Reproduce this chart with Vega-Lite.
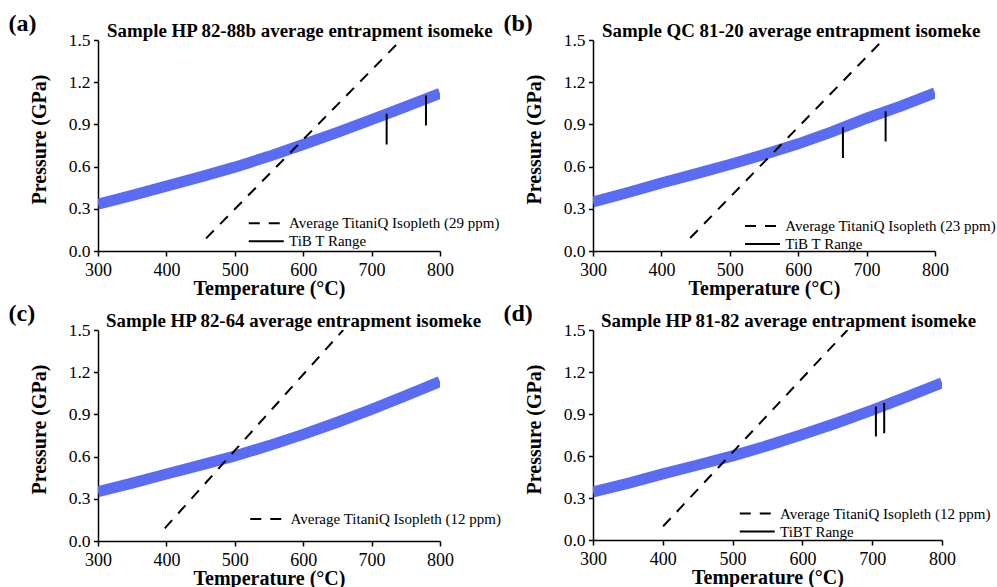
{
  "$schema": "https://vega.github.io/schema/vega-lite/v6.json",
  "background": "white",
  "padding": {"left": 8, "top": 12, "right": 0, "bottom": 0},
  "config": {
    "font": "Liberation Serif",
    "view": {"stroke": null},
    "axis": {
      "labelFont": "Liberation Serif", "labelColor": "black",
      "titleFont": "Liberation Serif", "titleFontSize": 20, "titleFontWeight": "bold", "titleColor": "black",
      "domainColor": "black", "domainWidth": 1.5, "tickColor": "black", "tickWidth": 1.5, "grid": false,
      "labelFlush": false, "labelOverlap": false
    },
    "axisX": {"labelFontSize": 18, "labelPadding": 5, "titlePadding": -1},
    "axisY": {"labelFontSize": 17.5, "labelPadding": 3.5, "titlePadding": 18.6, "titleY": 99},
    "legend": {
      "orient": "none", "title": null, "labelFont": "Liberation Serif", "labelFontSize": 15, "labelColor": "black", "labelLimit": 0,
      "symbolType": "M-2,0H2", "symbolSize": 306, "symbolStrokeWidth": 2, "symbolStrokeColor": "black",
      "labelOffset": 12.75, "rowPadding": -1.5, "padding": 0
    },
    "title": {"font": "Liberation Serif", "color": "black"}
  },
  "datasets": {
    "band_a": [
      {"T": 300, "P": 0.333}, {"T": 350, "P": 0.395}, {"T": 400, "P": 0.461}, {"T": 450, "P": 0.527},
      {"T": 500, "P": 0.596}, {"T": 550, "P": 0.673}, {"T": 600, "P": 0.757}, {"T": 650, "P": 0.843},
      {"T": 700, "P": 0.934}, {"T": 750, "P": 1.027}, {"T": 800, "P": 1.12}
    ],
    "iso_a": [
      {"T": 458, "P": 0.09, "series": "Average TitaniQ Isopleth (29 ppm)"},
      {"T": 741, "P": 1.49, "series": "Average TitaniQ Isopleth (29 ppm)"}
    ],
    "tib_a": [
      {"T": 722, "P_low": 0.757, "P_high": 0.975, "series": "TiB T Range"},
      {"T": 779.5, "P_low": 0.892, "P_high": 1.105, "series": "TiB T Range"}
    ],
    "band_b": [
      {"T": 300, "P": 0.348}, {"T": 350, "P": 0.414}, {"T": 400, "P": 0.483}, {"T": 450, "P": 0.548},
      {"T": 500, "P": 0.615}, {"T": 550, "P": 0.686}, {"T": 600, "P": 0.762}, {"T": 650, "P": 0.848},
      {"T": 700, "P": 0.944}, {"T": 750, "P": 1.03}, {"T": 800, "P": 1.124}
    ],
    "iso_b": [
      {"T": 442, "P": 0.092, "series": "Average TitaniQ Isopleth (23 ppm)"},
      {"T": 723, "P": 1.495, "series": "Average TitaniQ Isopleth (23 ppm)"}
    ],
    "tib_b": [
      {"T": 665.4, "P_low": 0.662, "P_high": 0.88, "series": "TiB T Range"},
      {"T": 727.8, "P_low": 0.778, "P_high": 0.994, "series": "TiB T Range"}
    ],
    "band_c": [
      {"T": 300, "P": 0.351}, {"T": 350, "P": 0.412}, {"T": 400, "P": 0.476}, {"T": 450, "P": 0.539},
      {"T": 500, "P": 0.604}, {"T": 550, "P": 0.678}, {"T": 600, "P": 0.758}, {"T": 650, "P": 0.844},
      {"T": 700, "P": 0.936}, {"T": 750, "P": 1.033}, {"T": 800, "P": 1.133}
    ],
    "iso_c": [
      {"T": 397.6, "P": 0.09, "series": "Average TitaniQ Isopleth (12 ppm)"},
      {"T": 658.5, "P": 1.5, "series": "Average TitaniQ Isopleth (12 ppm)"}
    ],
    "band_d": [
      {"T": 300, "P": 0.343}, {"T": 350, "P": 0.405}, {"T": 400, "P": 0.472}, {"T": 450, "P": 0.536},
      {"T": 500, "P": 0.601}, {"T": 550, "P": 0.674}, {"T": 600, "P": 0.753}, {"T": 650, "P": 0.838},
      {"T": 700, "P": 0.928}, {"T": 750, "P": 1.024}, {"T": 800, "P": 1.123}
    ],
    "iso_d": [
      {"T": 400.5, "P": 0.098, "series": "Average TitaniQ Isopleth (12 ppm)"},
      {"T": 664.6, "P": 1.5, "series": "Average TitaniQ Isopleth (12 ppm)"}
    ],
    "tib_d": [
      {"T": 705.3, "P_low": 0.739, "P_high": 0.954, "series": "TiBT Range"},
      {"T": 717.2, "P_low": 0.763, "P_high": 0.978, "series": "TiBT Range"}
    ]
  },
  "columns": 2,
  "spacing": {"row": 4, "column": 1},
  "resolve": {"scale": {"strokeDash": "independent"}, "legend": {"strokeDash": "independent"}},
  "concat": [
    {
      "title": {"text": "(a)", "anchor": "start", "frame": "bounds", "fontSize": 24, "fontWeight": "bold", "offset": -14, "dx": -21},
      "resolve": {"scale": {"strokeDash": "independent"}, "legend": {"strokeDash": "independent"}},
      "vconcat": [{
        "width": 342, "height": 211,
        "title": {"text": "Sample HP 82-88b average entrapment isomeke", "anchor": "start", "frame": "group", "dx": 9, "offset": -10, "fontSize": 18.9, "fontWeight": "bold"},
        "layer": [
          {
            "data": {"name": "band_a"},
            "mark": {"type": "line", "color": "#5a6cf4", "strokeWidth": 11, "strokeCap": "butt", "clip": true},
            "encoding": {
              "x": {"field": "T", "type": "quantitative", "title": "Temperature (°C)", "scale": {"domain": [300, 800], "nice": false},
                "axis": {"values": [300, 350, 400, 450, 500, 550, 600, 650, 700, 750, 800], "labelExpr": "datum.value % 100 === 0 ? datum.label : ''",
                  "tickSize": {"condition": {"test": "datum.value % 100 === 0", "value": 5}, "value": 2.5}}},
              "y": {"field": "P", "type": "quantitative", "title": "Pressure (GPa)", "scale": {"domain": [0, 1.5], "nice": false},
                "axis": {"values": [0, 0.15, 0.3, 0.45, 0.6, 0.75, 0.9, 1.05, 1.2, 1.35, 1.5], "labelExpr": "round(datum.value * 100) % 30 === 0 ? format(datum.value, '.1f') : ''",
                  "tickSize": {"condition": {"test": "round(datum.value * 100) % 30 === 0", "value": 4.5}, "value": 2.5}}}
            }
          },
          {
            "data": {"name": "iso_a"},
            "mark": {"type": "line", "color": "black", "strokeWidth": 2, "clip": true},
            "encoding": {
              "x": {"field": "T", "type": "quantitative"},
              "y": {"field": "P", "type": "quantitative"},
              "strokeDash": {"field": "series", "type": "nominal", "scale": {"domain": ["Average TitaniQ Isopleth (29 ppm)", "TiB T Range"], "range": [[11, 9], [1, 0]]},
                "legend": {"legendX": 158.25, "legendY": 173.25}}
            }
          },
          {
            "data": {"name": "tib_a"},
            "mark": {"type": "rule", "color": "black", "strokeWidth": 2},
            "encoding": {
              "x": {"field": "T", "type": "quantitative"},
              "y": {"field": "P_low", "type": "quantitative"},
              "y2": {"field": "P_high"},
              "strokeDash": {"field": "series", "type": "nominal"}
            }
          }
        ]
      }]
    },
    {
      "title": {"text": "(b)", "anchor": "start", "frame": "bounds", "fontSize": 24, "fontWeight": "bold", "offset": -14, "dx": -21},
      "resolve": {"scale": {"strokeDash": "independent"}, "legend": {"strokeDash": "independent"}},
      "vconcat": [{
        "width": 342, "height": 211,
        "title": {"text": "Sample QC 81-20 average entrapment isomeke", "anchor": "start", "frame": "group", "dx": 9, "offset": -10, "fontSize": 18.9, "fontWeight": "bold"},
        "layer": [
          {
            "data": {"name": "band_b"},
            "mark": {"type": "line", "color": "#5a6cf4", "strokeWidth": 11, "strokeCap": "butt", "clip": true},
            "encoding": {
              "x": {"field": "T", "type": "quantitative", "title": "Temperature (°C)", "scale": {"domain": [300, 800], "nice": false},
                "axis": {"values": [300, 350, 400, 450, 500, 550, 600, 650, 700, 750, 800], "labelExpr": "datum.value % 100 === 0 ? datum.label : ''",
                  "tickSize": {"condition": {"test": "datum.value % 100 === 0", "value": 5}, "value": 2.5}}},
              "y": {"field": "P", "type": "quantitative", "title": "Pressure (GPa)", "scale": {"domain": [0, 1.5], "nice": false},
                "axis": {"values": [0, 0.15, 0.3, 0.45, 0.6, 0.75, 0.9, 1.05, 1.2, 1.35, 1.5], "labelExpr": "round(datum.value * 100) % 30 === 0 ? format(datum.value, '.1f') : ''",
                  "tickSize": {"condition": {"test": "round(datum.value * 100) % 30 === 0", "value": 4.5}, "value": 2.5}}}
            }
          },
          {
            "data": {"name": "iso_b"},
            "mark": {"type": "line", "color": "black", "strokeWidth": 2, "clip": true},
            "encoding": {
              "x": {"field": "T", "type": "quantitative"},
              "y": {"field": "P", "type": "quantitative"},
              "strokeDash": {"field": "series", "type": "nominal", "scale": {"domain": ["Average TitaniQ Isopleth (23 ppm)", "TiB T Range"], "range": [[11, 9], [1, 0]]},
                "legend": {"legendX": 159.5, "legendY": 176}}
            }
          },
          {
            "data": {"name": "tib_b"},
            "mark": {"type": "rule", "color": "black", "strokeWidth": 2},
            "encoding": {
              "x": {"field": "T", "type": "quantitative"},
              "y": {"field": "P_low", "type": "quantitative"},
              "y2": {"field": "P_high"},
              "strokeDash": {"field": "series", "type": "nominal"}
            }
          }
        ]
      }]
    },
    {
      "title": {"text": "(c)", "anchor": "start", "frame": "bounds", "fontSize": 24, "fontWeight": "bold", "offset": -14, "dx": -21},
      "resolve": {"scale": {"strokeDash": "independent"}, "legend": {"strokeDash": "independent"}},
      "vconcat": [{
        "width": 342, "height": 211,
        "title": {"text": "Sample HP 82-64 average entrapment isomeke", "anchor": "start", "frame": "group", "dx": 8, "offset": -10, "fontSize": 18.9, "fontWeight": "bold"},
        "layer": [
          {
            "data": {"name": "band_c"},
            "mark": {"type": "line", "color": "#5a6cf4", "strokeWidth": 11, "strokeCap": "butt", "clip": true},
            "encoding": {
              "x": {"field": "T", "type": "quantitative", "title": "Temperature (°C)", "scale": {"domain": [300, 800], "nice": false},
                "axis": {"values": [300, 350, 400, 450, 500, 550, 600, 650, 700, 750, 800], "labelExpr": "datum.value % 100 === 0 ? datum.label : ''",
                  "tickSize": {"condition": {"test": "datum.value % 100 === 0", "value": 5}, "value": 2.5}}},
              "y": {"field": "P", "type": "quantitative", "title": "Pressure (GPa)", "scale": {"domain": [0, 1.5], "nice": false},
                "axis": {"values": [0, 0.15, 0.3, 0.45, 0.6, 0.75, 0.9, 1.05, 1.2, 1.35, 1.5], "labelExpr": "round(datum.value * 100) % 30 === 0 ? format(datum.value, '.1f') : ''",
                  "tickSize": {"condition": {"test": "round(datum.value * 100) % 30 === 0", "value": 4.5}, "value": 2.5}}}
            }
          },
          {
            "data": {"name": "iso_c"},
            "mark": {"type": "line", "color": "black", "strokeWidth": 2, "clip": true},
            "encoding": {
              "x": {"field": "T", "type": "quantitative"},
              "y": {"field": "P", "type": "quantitative"},
              "strokeDash": {"field": "series", "type": "nominal", "scale": {"domain": ["Average TitaniQ Isopleth (12 ppm)"], "range": [[11, 9]]},
                "legend": {"legendX": 159.75, "legendY": 179}}
            }
          }
        ]
      }]
    },
    {
      "title": {"text": "(d)", "anchor": "start", "frame": "bounds", "fontSize": 24, "fontWeight": "bold", "offset": -14, "dx": -21},
      "resolve": {"scale": {"strokeDash": "independent"}, "legend": {"strokeDash": "independent"}},
      "vconcat": [{
        "width": 349, "height": 210,
        "title": {"text": "Sample HP 81-82 average entrapment isomeke", "anchor": "start", "frame": "group", "dx": 8, "offset": -10, "fontSize": 18.9, "fontWeight": "bold"},
        "layer": [
          {
            "data": {"name": "band_d"},
            "mark": {"type": "line", "color": "#5a6cf4", "strokeWidth": 11, "strokeCap": "butt", "clip": true},
            "encoding": {
              "x": {"field": "T", "type": "quantitative", "title": "Temperature (°C)", "scale": {"domain": [300, 800], "nice": false},
                "axis": {"values": [300, 350, 400, 450, 500, 550, 600, 650, 700, 750, 800], "labelExpr": "datum.value % 100 === 0 ? datum.label : ''",
                  "tickSize": {"condition": {"test": "datum.value % 100 === 0", "value": 5}, "value": 2.5}}},
              "y": {"field": "P", "type": "quantitative", "title": "Pressure (GPa)", "scale": {"domain": [0, 1.5], "nice": false},
                "axis": {"values": [0, 0.15, 0.3, 0.45, 0.6, 0.75, 0.9, 1.05, 1.2, 1.35, 1.5], "labelExpr": "round(datum.value * 100) % 30 === 0 ? format(datum.value, '.1f') : ''",
                  "tickSize": {"condition": {"test": "round(datum.value * 100) % 30 === 0", "value": 4.5}, "value": 2.5}}}
            }
          },
          {
            "data": {"name": "iso_d"},
            "mark": {"type": "line", "color": "black", "strokeWidth": 2, "clip": true},
            "encoding": {
              "x": {"field": "T", "type": "quantitative"},
              "y": {"field": "P", "type": "quantitative"},
              "strokeDash": {"field": "series", "type": "nominal", "scale": {"domain": ["Average TitaniQ Isopleth (12 ppm)", "TiBT Range"], "range": [[11, 9], [1, 0]]},
                "legend": {"legendX": 154.25, "legendY": 173.5}}
            }
          },
          {
            "data": {"name": "tib_d"},
            "mark": {"type": "rule", "color": "black", "strokeWidth": 2},
            "encoding": {
              "x": {"field": "T", "type": "quantitative"},
              "y": {"field": "P_low", "type": "quantitative"},
              "y2": {"field": "P_high"},
              "strokeDash": {"field": "series", "type": "nominal"}
            }
          }
        ]
      }]
    }
  ]
}
